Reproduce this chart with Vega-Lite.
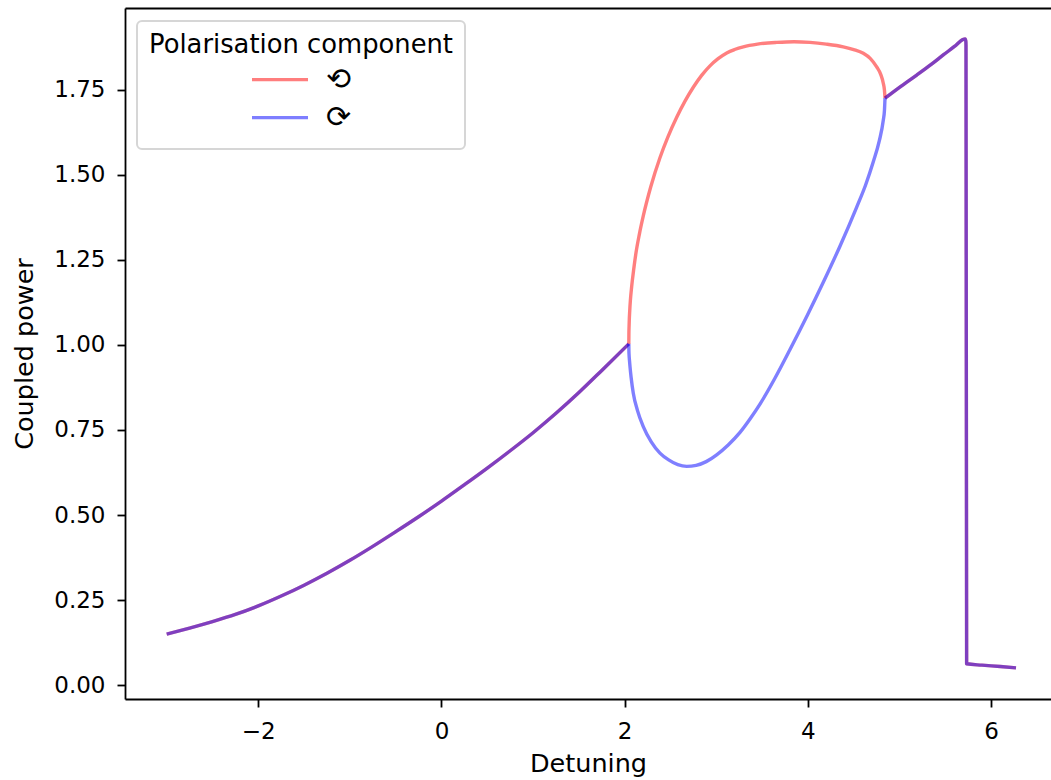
{
  "$schema": "https://vega.github.io/schema/vega-lite/v6.json",
  "width": 926,
  "height": 691,
  "autosize": {"type": "none"},
  "padding": {"left": 125, "top": 8, "right": 0, "bottom": 81},
  "background": "white",
  "config": {
    "font": "DejaVu Sans",
    "view": {"stroke": null},
    "axis": {
      "domainColor": "black", "domainWidth": 1.8,
      "tickColor": "black", "tickWidth": 1.8, "tickSize": 8,
      "labelFontSize": 23, "labelColor": "black", "labelFont": "DejaVu Sans",
      "titleFontSize": 25.5, "titleColor": "black", "titleFontWeight": "normal", "titleFont": "DejaVu Sans",
      "grid": false
    },
    "legend": {
      "padding": 12,
      "strokeColor": "#d6d6d6",
      "strokeWidth": 2,
      "fillColor": "rgba(255,255,255,0.8)",
      "cornerRadius": 5
    }
  },
  "data": {
    "values": [
      {"detuning": -3.0, "power": 0.150, "component": "⟲", "part": "a"},
      {"detuning": -2.75, "power": 0.168, "component": "⟲", "part": "a"},
      {"detuning": -2.5, "power": 0.187, "component": "⟲", "part": "a"},
      {"detuning": -2.25, "power": 0.208, "component": "⟲", "part": "a"},
      {"detuning": -2.0, "power": 0.233, "component": "⟲", "part": "a"},
      {"detuning": -1.75, "power": 0.262, "component": "⟲", "part": "a"},
      {"detuning": -1.5, "power": 0.294, "component": "⟲", "part": "a"},
      {"detuning": -1.25, "power": 0.329, "component": "⟲", "part": "a"},
      {"detuning": -1.0, "power": 0.367, "component": "⟲", "part": "a"},
      {"detuning": -0.75, "power": 0.408, "component": "⟲", "part": "a"},
      {"detuning": -0.5, "power": 0.451, "component": "⟲", "part": "a"},
      {"detuning": -0.25, "power": 0.495, "component": "⟲", "part": "a"},
      {"detuning": 0.0, "power": 0.541, "component": "⟲", "part": "a"},
      {"detuning": 0.25, "power": 0.589, "component": "⟲", "part": "a"},
      {"detuning": 0.5, "power": 0.638, "component": "⟲", "part": "a"},
      {"detuning": 0.75, "power": 0.689, "component": "⟲", "part": "a"},
      {"detuning": 1.0, "power": 0.742, "component": "⟲", "part": "a"},
      {"detuning": 1.25, "power": 0.799, "component": "⟲", "part": "a"},
      {"detuning": 1.5, "power": 0.860, "component": "⟲", "part": "a"},
      {"detuning": 1.75, "power": 0.925, "component": "⟲", "part": "a"},
      {"detuning": 2.045, "power": 1.003, "component": "⟲", "part": "a"},
      {"detuning": 2.045, "power": 1.003, "component": "⟲", "part": "b"},
      {"detuning": 2.046, "power": 1.034, "component": "⟲", "part": "b"},
      {"detuning": 2.048, "power": 1.055, "component": "⟲", "part": "b"},
      {"detuning": 2.050, "power": 1.072, "component": "⟲", "part": "b"},
      {"detuning": 2.055, "power": 1.100, "component": "⟲", "part": "b"},
      {"detuning": 2.062, "power": 1.130, "component": "⟲", "part": "b"},
      {"detuning": 2.076, "power": 1.171, "component": "⟲", "part": "b"},
      {"detuning": 2.10, "power": 1.225, "component": "⟲", "part": "b"},
      {"detuning": 2.123, "power": 1.270, "component": "⟲", "part": "b"},
      {"detuning": 2.16, "power": 1.325, "component": "⟲", "part": "b"},
      {"detuning": 2.203, "power": 1.379, "component": "⟲", "part": "b"},
      {"detuning": 2.284, "power": 1.464, "component": "⟲", "part": "b"},
      {"detuning": 2.385, "power": 1.550, "component": "⟲", "part": "b"},
      {"detuning": 2.47, "power": 1.610, "component": "⟲", "part": "b"},
      {"detuning": 2.568, "power": 1.669, "component": "⟲", "part": "b"},
      {"detuning": 2.66, "power": 1.717, "component": "⟲", "part": "b"},
      {"detuning": 2.749, "power": 1.757, "component": "⟲", "part": "b"},
      {"detuning": 2.84, "power": 1.792, "component": "⟲", "part": "b"},
      {"detuning": 2.931, "power": 1.820, "component": "⟲", "part": "b"},
      {"detuning": 3.02, "power": 1.841, "component": "⟲", "part": "b"},
      {"detuning": 3.114, "power": 1.858, "component": "⟲", "part": "b"},
      {"detuning": 3.20, "power": 1.868, "component": "⟲", "part": "b"},
      {"detuning": 3.295, "power": 1.876, "component": "⟲", "part": "b"},
      {"detuning": 3.45, "power": 1.884, "component": "⟲", "part": "b"},
      {"detuning": 3.659, "power": 1.889, "component": "⟲", "part": "b"},
      {"detuning": 3.85, "power": 1.891, "component": "⟲", "part": "b"},
      {"detuning": 4.023, "power": 1.889, "component": "⟲", "part": "b"},
      {"detuning": 4.20, "power": 1.884, "component": "⟲", "part": "b"},
      {"detuning": 4.386, "power": 1.876, "component": "⟲", "part": "b"},
      {"detuning": 4.50, "power": 1.868, "component": "⟲", "part": "b"},
      {"detuning": 4.605, "power": 1.857, "component": "⟲", "part": "b"},
      {"detuning": 4.68, "power": 1.842, "component": "⟲", "part": "b"},
      {"detuning": 4.751, "power": 1.817, "component": "⟲", "part": "b"},
      {"detuning": 4.795, "power": 1.795, "component": "⟲", "part": "b"},
      {"detuning": 4.823, "power": 1.769, "component": "⟲", "part": "b"},
      {"detuning": 4.836, "power": 1.748, "component": "⟲", "part": "b"},
      {"detuning": 4.842, "power": 1.725, "component": "⟲", "part": "b"},
      {"detuning": 4.842, "power": 1.725, "component": "⟲", "part": "c"},
      {"detuning": 5.0, "power": 1.757, "component": "⟲", "part": "c"},
      {"detuning": 5.188, "power": 1.793, "component": "⟲", "part": "c"},
      {"detuning": 5.35, "power": 1.825, "component": "⟲", "part": "c"},
      {"detuning": 5.478, "power": 1.852, "component": "⟲", "part": "c"},
      {"detuning": 5.60, "power": 1.877, "component": "⟲", "part": "c"},
      {"detuning": 5.697, "power": 1.898, "component": "⟲", "part": "c"},
      {"detuning": 5.716, "power": 1.899, "component": "⟲", "part": "c"},
      {"detuning": 5.724, "power": 1.893, "component": "⟲", "part": "c"},
      {"detuning": 5.726, "power": 1.880, "component": "⟲", "part": "c"},
      {"detuning": 5.733, "power": 0.063, "component": "⟲", "part": "c"},
      {"detuning": 5.9, "power": 0.059, "component": "⟲", "part": "c"},
      {"detuning": 6.1, "power": 0.055, "component": "⟲", "part": "c"},
      {"detuning": 6.272, "power": 0.051, "component": "⟲", "part": "c"},

      {"detuning": -3.0, "power": 0.150, "component": "⟳", "part": "a"},
      {"detuning": -2.75, "power": 0.168, "component": "⟳", "part": "a"},
      {"detuning": -2.5, "power": 0.187, "component": "⟳", "part": "a"},
      {"detuning": -2.25, "power": 0.208, "component": "⟳", "part": "a"},
      {"detuning": -2.0, "power": 0.233, "component": "⟳", "part": "a"},
      {"detuning": -1.75, "power": 0.262, "component": "⟳", "part": "a"},
      {"detuning": -1.5, "power": 0.294, "component": "⟳", "part": "a"},
      {"detuning": -1.25, "power": 0.329, "component": "⟳", "part": "a"},
      {"detuning": -1.0, "power": 0.367, "component": "⟳", "part": "a"},
      {"detuning": -0.75, "power": 0.408, "component": "⟳", "part": "a"},
      {"detuning": -0.5, "power": 0.451, "component": "⟳", "part": "a"},
      {"detuning": -0.25, "power": 0.495, "component": "⟳", "part": "a"},
      {"detuning": 0.0, "power": 0.541, "component": "⟳", "part": "a"},
      {"detuning": 0.25, "power": 0.589, "component": "⟳", "part": "a"},
      {"detuning": 0.5, "power": 0.638, "component": "⟳", "part": "a"},
      {"detuning": 0.75, "power": 0.689, "component": "⟳", "part": "a"},
      {"detuning": 1.0, "power": 0.742, "component": "⟳", "part": "a"},
      {"detuning": 1.25, "power": 0.799, "component": "⟳", "part": "a"},
      {"detuning": 1.5, "power": 0.860, "component": "⟳", "part": "a"},
      {"detuning": 1.75, "power": 0.925, "component": "⟳", "part": "a"},
      {"detuning": 2.045, "power": 1.003, "component": "⟳", "part": "a"},
      {"detuning": 2.045, "power": 1.003, "component": "⟳", "part": "b"},
      {"detuning": 2.046, "power": 0.984, "component": "⟳", "part": "b"},
      {"detuning": 2.048, "power": 0.970, "component": "⟳", "part": "b"},
      {"detuning": 2.052, "power": 0.955, "component": "⟳", "part": "b"},
      {"detuning": 2.058, "power": 0.936, "component": "⟳", "part": "b"},
      {"detuning": 2.07, "power": 0.905, "component": "⟳", "part": "b"},
      {"detuning": 2.094, "power": 0.858, "component": "⟳", "part": "b"},
      {"detuning": 2.14, "power": 0.807, "component": "⟳", "part": "b"},
      {"detuning": 2.203, "power": 0.760, "component": "⟳", "part": "b"},
      {"detuning": 2.29, "power": 0.715, "component": "⟳", "part": "b"},
      {"detuning": 2.385, "power": 0.682, "component": "⟳", "part": "b"},
      {"detuning": 2.48, "power": 0.662, "component": "⟳", "part": "b"},
      {"detuning": 2.58, "power": 0.648, "component": "⟳", "part": "b"},
      {"detuning": 2.677, "power": 0.643, "component": "⟳", "part": "b"},
      {"detuning": 2.78, "power": 0.646, "component": "⟳", "part": "b"},
      {"detuning": 2.89, "power": 0.657, "component": "⟳", "part": "b"},
      {"detuning": 3.004, "power": 0.677, "component": "⟳", "part": "b"},
      {"detuning": 3.13, "power": 0.706, "component": "⟳", "part": "b"},
      {"detuning": 3.259, "power": 0.743, "component": "⟳", "part": "b"},
      {"detuning": 3.37, "power": 0.783, "component": "⟳", "part": "b"},
      {"detuning": 3.477, "power": 0.826, "component": "⟳", "part": "b"},
      {"detuning": 3.64, "power": 0.902, "component": "⟳", "part": "b"},
      {"detuning": 3.802, "power": 0.985, "component": "⟳", "part": "b"},
      {"detuning": 3.99, "power": 1.085, "component": "⟳", "part": "b"},
      {"detuning": 4.168, "power": 1.184, "component": "⟳", "part": "b"},
      {"detuning": 4.35, "power": 1.290, "component": "⟳", "part": "b"},
      {"detuning": 4.533, "power": 1.405, "component": "⟳", "part": "b"},
      {"detuning": 4.63, "power": 1.470, "component": "⟳", "part": "b"},
      {"detuning": 4.714, "power": 1.538, "component": "⟳", "part": "b"},
      {"detuning": 4.78, "power": 1.600, "component": "⟳", "part": "b"},
      {"detuning": 4.823, "power": 1.660, "component": "⟳", "part": "b"},
      {"detuning": 4.836, "power": 1.690, "component": "⟳", "part": "b"},
      {"detuning": 4.842, "power": 1.725, "component": "⟳", "part": "b"},
      {"detuning": 4.842, "power": 1.725, "component": "⟳", "part": "c"},
      {"detuning": 5.0, "power": 1.757, "component": "⟳", "part": "c"},
      {"detuning": 5.188, "power": 1.793, "component": "⟳", "part": "c"},
      {"detuning": 5.35, "power": 1.825, "component": "⟳", "part": "c"},
      {"detuning": 5.478, "power": 1.852, "component": "⟳", "part": "c"},
      {"detuning": 5.60, "power": 1.877, "component": "⟳", "part": "c"},
      {"detuning": 5.697, "power": 1.898, "component": "⟳", "part": "c"},
      {"detuning": 5.716, "power": 1.899, "component": "⟳", "part": "c"},
      {"detuning": 5.724, "power": 1.893, "component": "⟳", "part": "c"},
      {"detuning": 5.726, "power": 1.880, "component": "⟳", "part": "c"},
      {"detuning": 5.733, "power": 0.063, "component": "⟳", "part": "c"},
      {"detuning": 5.9, "power": 0.059, "component": "⟳", "part": "c"},
      {"detuning": 6.1, "power": 0.055, "component": "⟳", "part": "c"},
      {"detuning": 6.272, "power": 0.051, "component": "⟳", "part": "c"}
    ]
  },
  "layer": [
    {
      "transform": [{"filter": "datum.component === '⟲'"}],
      "mark": {"type": "line", "strokeWidth": 3.4, "opacity": 0.5, "strokeJoin": "round", "interpolate": "monotone"},
      "encoding": {
        "x": {
          "field": "detuning", "type": "quantitative",
          "scale": {"domain": [-3.455, 6.654], "nice": false, "zero": false},
          "axis": {"title": "Detuning", "values": [-2, 0, 2, 4, 6], "format": "d", "labelPadding": 13, "titlePadding": 8}
        },
        "y": {
          "field": "power", "type": "quantitative",
          "scale": {"domain": [-0.0405, 1.99], "nice": false, "zero": false},
          "axis": {"title": "Coupled power", "values": [0, 0.25, 0.5, 0.75, 1, 1.25, 1.5, 1.75], "format": ".2f", "labelPadding": 12, "titlePadding": 16}
        },
        "detail": {"field": "part", "type": "nominal"},
        "color": {
          "field": "component", "type": "nominal",
          "scale": {"domain": ["⟲", "⟳"], "range": ["#ff0000", "#0000ff"]},
          "legend": {
            "orient": "none", "legendX": 12, "legendY": 13,
            "title": "Polarisation component",
            "titleFontSize": 25.8, "titleFontWeight": "normal", "titleColor": "black",
            "titleAnchor": "middle", "titleLimit": 1000, "titlePadding": 1.8,
            "labelFontSize": 30, "labelColor": "black", "labelLimit": 500,
            "symbolType": "stroke", "symbolSize": 3136, "symbolStrokeWidth": 3.4, "symbolOpacity": 0.5,
            "labelOffset": 16, "rowPadding": 0, "clipHeight": 38
          }
        }
      }
    },
    {
      "transform": [{"filter": "datum.component === '⟳'"}],
      "mark": {"type": "line", "strokeWidth": 3.4, "opacity": 0.5, "strokeJoin": "round", "interpolate": "monotone"},
      "encoding": {
        "x": {
          "field": "detuning", "type": "quantitative",
          "axis": {"orient": "top", "title": null, "labels": false, "ticks": false, "domain": true}
        },
        "y": {"field": "power", "type": "quantitative"},
        "detail": {"field": "part", "type": "nominal"},
        "color": {"field": "component", "type": "nominal"}
      }
    }
  ],
  "resolve": {"axis": {"x": "independent"}}
}
